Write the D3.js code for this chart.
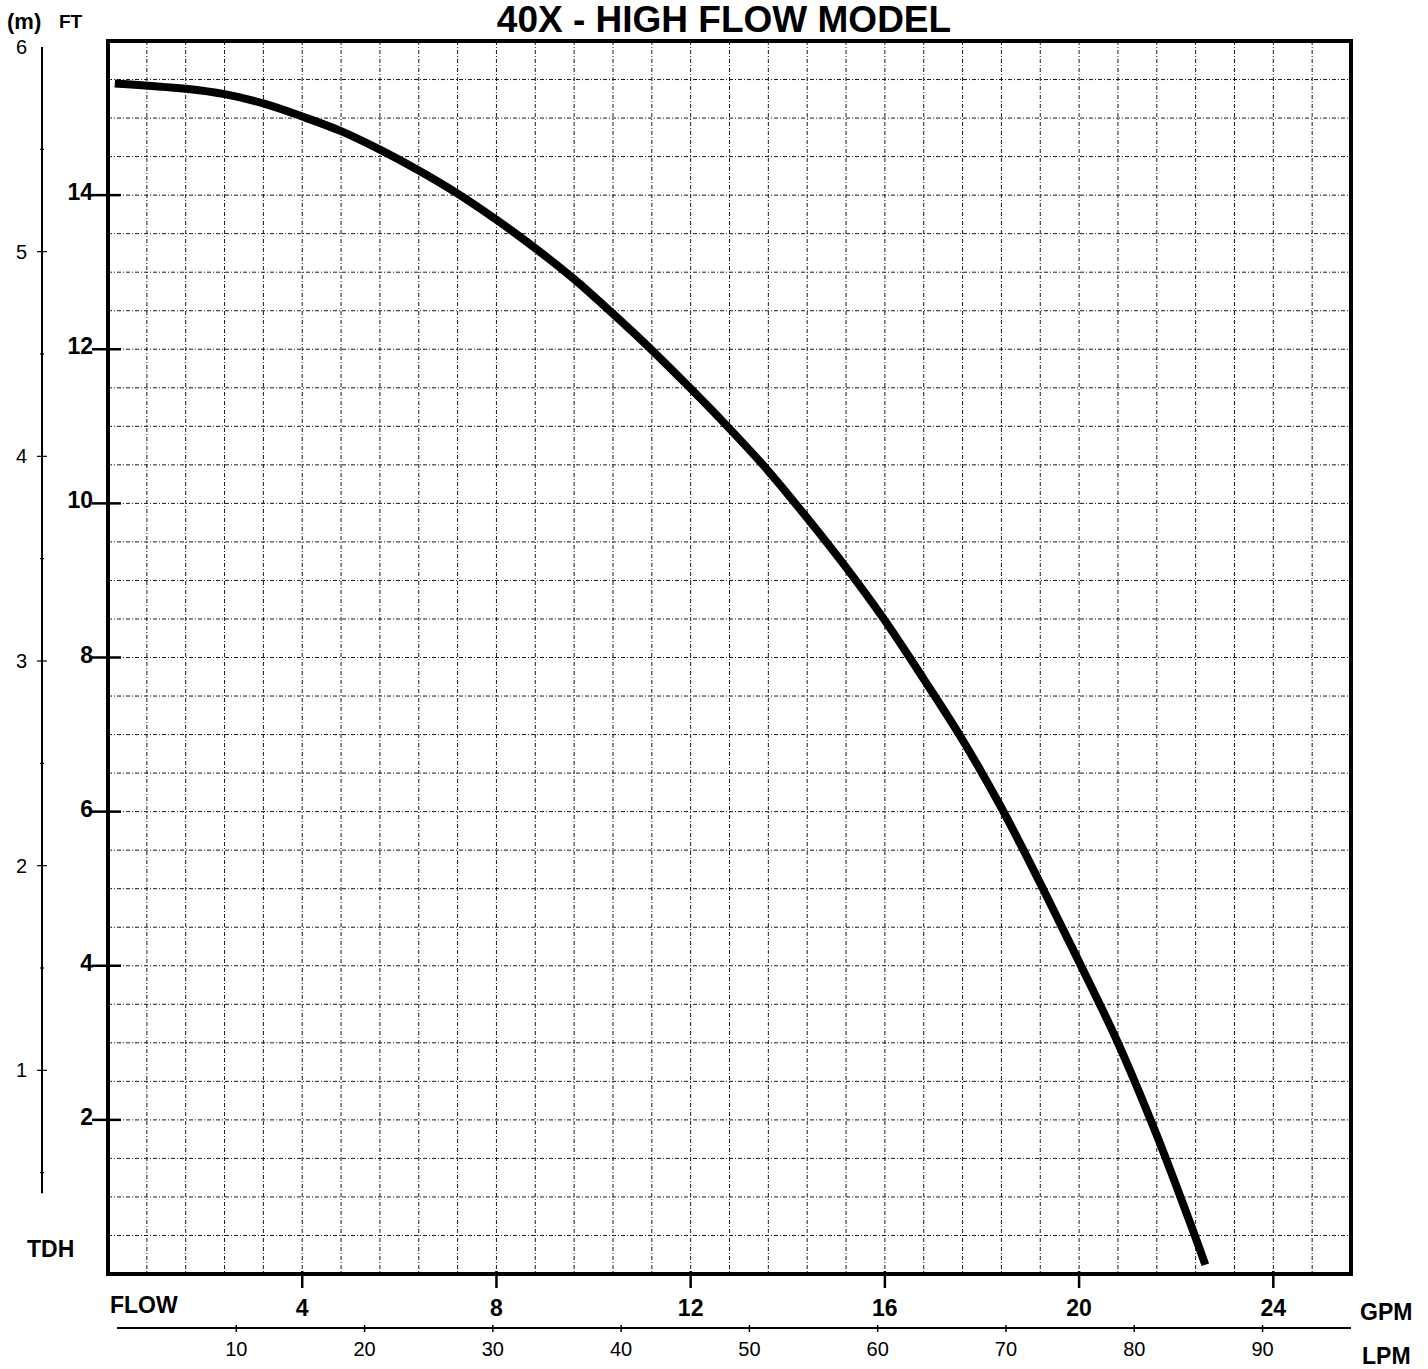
<!DOCTYPE html>
<html>
<head>
<meta charset="utf-8">
<script src="https://cdn.jsdelivr.net/npm/d3@7"></script>
<style>
  body { margin: 0; background: #fff; }
  text { font-family: "Liberation Sans", Arial, Helvetica, sans-serif; fill: #000; }
  .bold { font-weight: bold; }
</style>
</head>
<body>
<div id="graphic"></div>
<script>
// DATA
var gpmFlow = [0.14, 1.6, 2.4, 3.2, 4.0, 4.8, 5.6, 6.4, 7.2, 8.0, 8.8, 9.6, 10.4, 11.2, 12.0,
               12.8, 13.6, 14.4, 15.2, 16.0, 16.8, 17.6, 18.4, 19.2, 20.0, 20.8, 21.6, 22.4, 22.6];
var ftHead  = [15.45, 15.38, 15.31, 15.19, 15.02, 14.83, 14.59, 14.32, 14.02, 13.68, 13.31, 12.91, 12.46, 11.99, 11.49,
               10.97, 10.42, 9.81, 9.17, 8.48, 7.72, 6.93, 6.05, 5.07, 4.05, 3.0, 1.8, 0.47, 0.12];

var gpmTicks = [4, 8, 12, 16, 20, 24];
var lpmTicks = [10, 20, 30, 40, 50, 60, 70, 80, 90];
var ftTicks  = [2, 4, 6, 8, 10, 12, 14];
var mTicks   = [1, 2, 3, 4, 5, 6];

var W = 1428, H = 1369;

var svg = d3.select("#graphic").append("svg")
    .attr("width", W)
    .attr("height", H);

// SCALES
var xScale = d3.scaleLinear().domain([0, 25.6]).range([108, 1351]);
var lpmScale = d3.scaleLinear().domain([0, 25.6 * 3.785]).range([108, 1351]);
var yScale = d3.scaleLinear().domain([0, 16]).range([1274, 41]);
var mScale = d3.scaleLinear().domain([0, 6]).range([1275, 47]);

// GRID every 0.8 gpm / 0.5 ft
var gridX = d3.range(1, 32).map(i => i * 0.8);
var gridY = d3.range(1, 32).map(i => i * 0.5);

svg.append("g").selectAll("line")
    .data(gridX)
    .enter().append("line")
    .attr("x1", d => xScale(d)).attr("x2", d => xScale(d))
    .attr("y1", yScale(16)).attr("y2", yScale(0))
    .attr("stroke", "#1a1a1a")
    .attr("stroke-width", 1)
    .attr("stroke-dasharray", "4,2,1,2");

svg.append("g").selectAll("line")
    .data(gridY)
    .enter().append("line")
    .attr("y1", d => yScale(d)).attr("y2", d => yScale(d))
    .attr("x1", xScale(0)).attr("x2", xScale(25.6))
    .attr("stroke", "#1a1a1a")
    .attr("stroke-width", 1)
    .attr("stroke-dasharray", "4,2,1,2");

// FRAME
svg.append("rect")
    .attr("x", xScale(0))
    .attr("y", yScale(16))
    .attr("width", xScale(25.6) - xScale(0))
    .attr("height", yScale(0) - yScale(16))
    .attr("fill", "none")
    .attr("stroke", "#000")
    .attr("stroke-width", 4);

// FT axis ticks + labels
ftTicks.forEach(function (v) {
    svg.append("line")
        .attr("x1", 92).attr("x2", 121)
        .attr("y1", yScale(v)).attr("y2", yScale(v))
        .attr("stroke", "#000").attr("stroke-width", 2.5);
    svg.append("text")
        .attr("class", "bold")
        .attr("x", 93)
        .attr("y", yScale(v) + 5)
        .attr("text-anchor", "end")
        .style("font-size", "23px")
        .text(v);
});

// METRE axis
svg.append("line")
    .attr("x1", 42).attr("x2", 42)
    .attr("y1", mScale(6)).attr("y2", mScale(0.4))
    .attr("stroke", "#000").attr("stroke-width", 2);

d3.range(1, 12).map(i => i * 0.5).forEach(function (v) {
    var major = Number.isInteger(v);
    svg.append("line")
        .attr("x1", major ? 37 : 40).attr("x2", major ? 47 : 44)
        .attr("y1", mScale(v)).attr("y2", mScale(v))
        .attr("stroke", "#000").attr("stroke-width", 1.2);
});

mTicks.forEach(function (v) {
    svg.append("text")
        .attr("x", 27)
        .attr("y", mScale(v) + 7)
        .attr("text-anchor", "end")
        .style("font-size", "20px")
        .text(v);
});

// GPM ticks + labels
gpmTicks.forEach(function (v) {
    svg.append("line")
        .attr("x1", xScale(v)).attr("x2", xScale(v))
        .attr("y1", yScale(0) - 3).attr("y2", yScale(0) + 14)
        .attr("stroke", "#000").attr("stroke-width", 2.5);
    svg.append("text")
        .attr("class", "bold")
        .attr("x", xScale(v))
        .attr("y", 1316)
        .attr("text-anchor", "middle")
        .style("font-size", "23px")
        .text(v);
});

// LPM axis
svg.append("line")
    .attr("x1", 117).attr("x2", 1351)
    .attr("y1", 1328).attr("y2", 1328)
    .attr("stroke", "#000").attr("stroke-width", 2);

lpmTicks.forEach(function (v) {
    svg.append("line")
        .attr("x1", lpmScale(v)).attr("x2", lpmScale(v))
        .attr("y1", 1325).attr("y2", 1332)
        .attr("stroke", "#000").attr("stroke-width", 1.5);
    svg.append("text")
        .attr("x", lpmScale(v))
        .attr("y", 1356)
        .attr("text-anchor", "middle")
        .style("font-size", "20px")
        .text(v);
});

// LABELS
svg.append("text").attr("class", "bold")
    .attr("x", 724).attr("y", 32)
    .attr("text-anchor", "middle")
    .style("font-size", "37px")
    .text("40X - HIGH FLOW MODEL");

svg.append("text").attr("class", "bold")
    .attr("x", 7).attr("y", 29)
    .style("font-size", "22px")
    .text("(m)");
svg.append("text").attr("class", "bold")
    .attr("x", 59).attr("y", 28)
    .style("font-size", "19px")
    .text("FT");

svg.append("text").attr("class", "bold")
    .attr("x", 27).attr("y", 1257)
    .style("font-size", "23px")
    .text("TDH");

svg.append("text").attr("class", "bold")
    .attr("x", 110).attr("y", 1313)
    .style("font-size", "23px")
    .text("FLOW");

svg.append("text").attr("class", "bold")
    .attr("x", 1360).attr("y", 1320)
    .style("font-size", "23px")
    .text("GPM");

svg.append("text").attr("class", "bold")
    .attr("x", 1362).attr("y", 1364)
    .style("font-size", "23px")
    .text("LPM");

// CURVE
var line = d3.line()
    .x((d, i) => xScale(gpmFlow[i]))
    .y(d => yScale(d))
    .curve(d3.curveCatmullRom.alpha(0.5));

svg.append("path")
    .datum(ftHead)
    .attr("d", line)
    .attr("fill", "none")
    .attr("stroke", "#000")
    .attr("stroke-width", 8)
    .attr("stroke-linecap", "butt");
</script>
</body>
</html>
